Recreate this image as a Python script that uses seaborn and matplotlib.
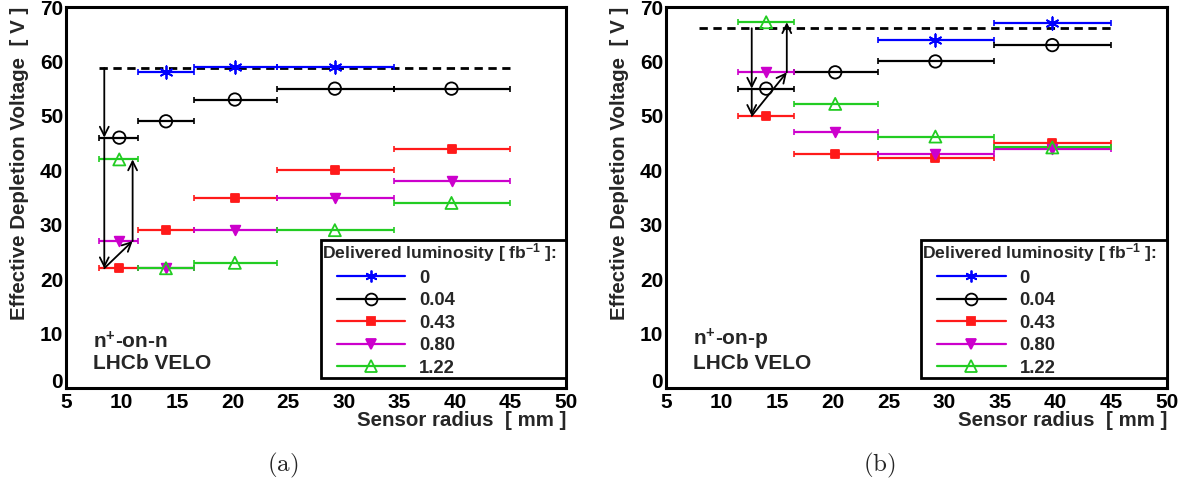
import numpy as np
import pandas as pd
import matplotlib
matplotlib.use("Agg")
import matplotlib.pyplot as plt
import seaborn as sns
from matplotlib.lines import Line2D
from matplotlib.legend_handler import HandlerLine2D
from matplotlib.ticker import MultipleLocator

# ---------------- data ----------------
bin_edges = [8.0, 11.5, 16.5, 24.0, 34.5, 45.0]
bin_centers = [9.8, 14.0, 20.2, 29.2, 39.7]
lumi_labels = ["0", "0.04", "0.43", "0.80", "1.22"]

# n+-on-n sensor (a)
nn_lumi_000 = [np.nan, 58, 59, 59, np.nan]
nn_lumi_004 = [46, 49, 53, 55, 55]
nn_lumi_043 = [22, 29, 35, 40, 44]
nn_lumi_080 = [27, 22, 29, 35, 38]
nn_lumi_122 = [42, 22, 23, 29, 34]
nn_initial_depletion = 58.8

# n+-on-p sensor (b)
np_lumi_000 = [np.nan, np.nan, np.nan, 64, 67]
np_lumi_004 = [np.nan, 55, 58, 60, 63]
np_lumi_043 = [np.nan, 50, 43, 42.2, 45]
np_lumi_080 = [np.nan, 58, 47, 43, 44]
np_lumi_122 = [np.nan, 67.2, 52.2, 46.2, 44.2]
np_initial_depletion = 66.1

# x positions of the annotation arrows (inner-bin evolution)
nn_arrow_x = [8.45, 11.0]
np_arrow_x = [12.7, 15.85]

x_ticks = [5, 10, 15, 20, 25, 30, 35, 40, 45, 50]
y_ticks = [0, 10, 20, 30, 40, 50, 60, 70]

panel_labels = ["n$^{+}$-on-n\nLHCb VELO", "n$^{+}$-on-p\nLHCb VELO"]
sub_captions = [r"$\mathrm{(a)}$", r"$\mathrm{(b)}$"]

# ---------------- style ----------------
series_colors = ["#0000ff", "#000000", "#ff1a1a", "#cc00cc", "#22cc22"]
series_markers = [(6, 2, 0), "o", "s", "v", "^"]
series_sizes = [80, 80, 36, 48, 75]
series_filled = [True, False, True, True, False]

sns.set_theme(style="white")
plt.rcParams["font.family"] = ["Liberation Sans", "DejaVu Sans"]
plt.rcParams["font.weight"] = "bold"
plt.rcParams["mathtext.fontset"] = "custom"
plt.rcParams["mathtext.bf"] = "Liberation Sans:bold"
plt.rcParams["mathtext.rm"] = "Liberation Sans:bold"
plt.rcParams["mathtext.default"] = "bf"


class InsetLineHandler(HandlerLine2D):
    """Legend line that starts a little inside the frame (ROOT TLegend look)."""
    def create_artists(self, legend, orig_handle, xdescent, ydescent, width,
                       height, fontsize, trans):
        inset = 0.8 * fontsize
        return super().create_artists(legend, orig_handle, xdescent - inset,
                                      ydescent, width - inset, height,
                                      fontsize, trans)


fig = plt.figure(figsize=(11.97, 4.87), dpi=100)
axes = [fig.add_axes([0.0551, 0.2033, 0.4177, 0.7823]),
        fig.add_axes([0.5564, 0.2033, 0.4185, 0.7823])]

edges = np.array(bin_edges)
centers = np.array(bin_centers)
lo = centers - edges[:-1]
hi = edges[1:] - centers

panels = [
    ([nn_lumi_000, nn_lumi_004, nn_lumi_043, nn_lumi_080, nn_lumi_122], nn_initial_depletion, nn_arrow_x),
    ([np_lumi_000, np_lumi_004, np_lumi_043, np_lumi_080, np_lumi_122], np_initial_depletion, np_arrow_x),
]

for i, (ax, (series, ref, arrow_x)) in enumerate(zip(axes, panels)):
    # reference dashed line (initial full depletion)
    ref_df = pd.DataFrame({"x": [bin_edges[0], bin_edges[-1]], "y": [ref, ref]})
    sns.lineplot(data=ref_df, x="x", y="y", ax=ax, color="black", lw=2.0,
                 linestyle=(0, (3, 2)), zorder=2)

    handles = []
    for vals, col, mk, sz, filled, lab in zip(series, series_colors, series_markers,
                                              series_sizes, series_filled, lumi_labels):
        v = np.array(vals, dtype=float)
        ok = ~np.isnan(v)
        ax.errorbar(centers[ok], v[ok], xerr=[lo[ok], hi[ok]], fmt="none",
                    ecolor=col, elinewidth=1.6, capsize=2.2, capthick=1.2, zorder=3)
        df = pd.DataFrame({"x": centers[ok], "y": v[ok]})
        if filled:
            sns.scatterplot(data=df, x="x", y="y", ax=ax, marker=mk, s=sz,
                            color=col, edgecolor=col, linewidth=1.3, zorder=4,
                            legend=False)
        else:
            sns.scatterplot(data=df, x="x", y="y", ax=ax, marker=mk, s=sz,
                            facecolors="none", edgecolor=col, linewidth=1.3,
                            zorder=4, legend=False)
        handles.append(Line2D([0], [0], color=col, lw=1.6, marker=mk,
                              markersize=np.sqrt(sz) * 0.95,
                              markerfacecolor=col if filled else "none",
                              markeredgecolor=col, markeredgewidth=1.3, label=lab))

    # arrows: initial -> 0.04 -> 0.43 -> 0.80 -> 1.22 in the innermost measured bin
    k = 0 if i == 0 else 1
    xa, xb = arrow_x
    pts = [(xa, ref), (xa, series[1][k]), (xa, series[2][k]),
           (xb, series[3][k]), (xb, series[4][k])]
    for (x0, y0), (x1, y1) in zip(pts[:-1], pts[1:]):
        ax.annotate("", xy=(x1, y1), xytext=(x0, y0),
                    arrowprops=dict(arrowstyle="->", color="black", lw=1.3,
                                    shrinkA=0, shrinkB=0, mutation_scale=16),
                    zorder=5)

    ax.set_xlim(5, 50)
    ax.set_ylim(0, 70)
    ax.set_xticks(x_ticks)
    ax.set_yticks(y_ticks)
    ax.xaxis.set_minor_locator(MultipleLocator(1))
    ax.yaxis.set_minor_locator(MultipleLocator(2))
    ax.tick_params(axis="both", which="both", direction="in", top=False, right=False,
                   labelsize=15, color="black", labelcolor="black")
    ax.tick_params(axis="y", which="major", length=10.5, width=1.2, pad=2)
    ax.tick_params(axis="y", which="minor", length=5.5, width=1.1)
    ax.tick_params(axis="x", which="major", length=7.5, width=1.2, pad=3.8)
    ax.tick_params(axis="x", which="minor", length=3.8, width=1.1)
    for lbl in ax.get_xticklabels() + ax.get_yticklabels():
        lbl.set_fontweight("bold")
    # the "0" of the voltage axis sits on its baseline, as in ROOT
    ax.get_yticklabels()[0].set_verticalalignment("baseline")
    for sp in ax.spines.values():
        sp.set_linewidth(2.2)
        sp.set_color("black")

    ax.set_xlabel("Sensor radius  [ mm ]", fontsize=14.8, fontweight="bold", loc="right")
    ax.xaxis.set_label_coords(1.0, -0.06)
    ax.set_ylabel("Effective Depletion Voltage  [ V ]", fontsize=14.8,
                  fontweight="bold", loc="top")
    ax.yaxis.set_label_coords(-0.074, 1.0)

    ax.text(0.054, 0.05, panel_labels[i], transform=ax.transAxes, fontsize=15,
            fontweight="bold", ha="left", va="baseline", linespacing=1.1)

    leg = ax.legend(handles=handles, loc="lower left",
                    bbox_to_anchor=(0.51, 0.027, 0.49, 0.355), mode="expand",
                    borderaxespad=0, frameon=True, fancybox=False,
                    edgecolor="black", framealpha=1, fontsize=13.3,
                    title="Delivered luminosity [ fb$^{-1}$ ]:",
                    title_fontproperties={"size": 12.6, "weight": "bold"},
                    handlelength=4.5, handletextpad=0.75, labelspacing=0.3,
                    borderpad=0.05, alignment="left",
                    handler_map={Line2D: InsetLineHandler(numpoints=1)})
    leg.get_frame().set_linewidth(2.0)
    for t in leg.get_texts():
        t.set_fontweight("bold")

    fig.text(0.236 if i == 0 else 0.735, 0.045, sub_captions[i], fontsize=18,
             ha="center", va="center", math_fontfamily="cm")

fig.savefig("out.png", dpi=100)
